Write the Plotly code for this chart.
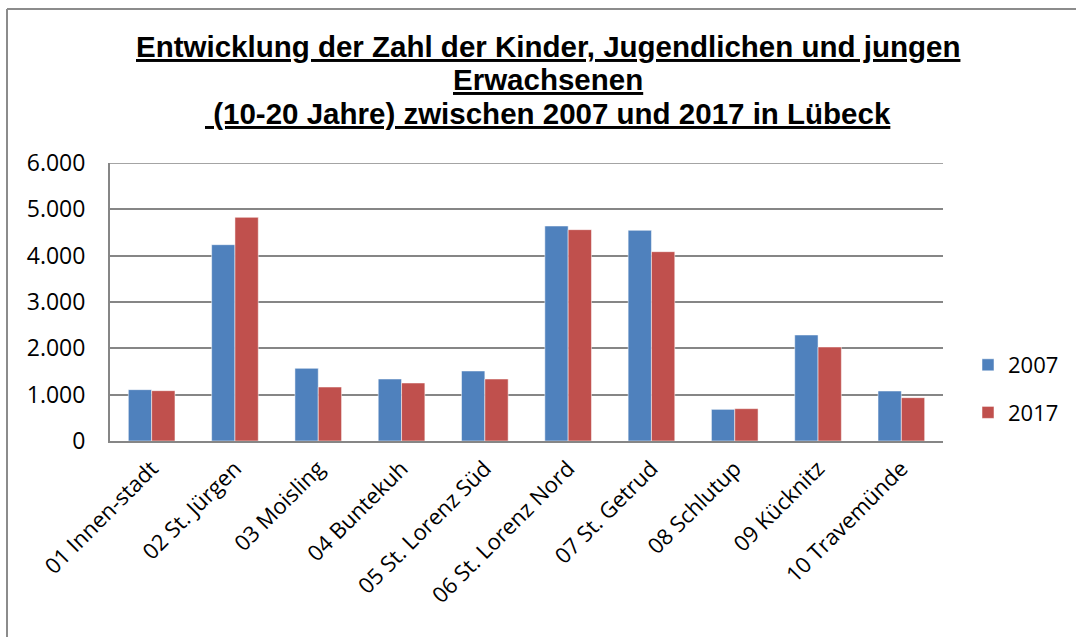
import plotly.graph_objects as go

categories = ["01 Innen-stadt", "02 St. Jürgen", "03 Moisling", "04 Buntekuh",
              "05 St. Lorenz Süd", "06 St. Lorenz Nord", "07 St. Getrud",
              "08 Schlutup", "09 Kücknitz", "10 Travemünde"]
values_2007 = [1108, 4237, 1568, 1338, 1511, 4640, 4547, 683, 2288, 1079]
values_2017 = [1086, 4827, 1165, 1252, 1338, 4561, 4086, 698, 2029, 935]
series_names = ["2007", "2017"]
y_ticks = [0, 1000, 2000, 3000, 4000, 5000, 6000]
y_ticktext = ["0", "1.000", "2.000", "3.000", "4.000", "5.000", "6.000"]
title_lines = ["Entwicklung der Zahl der Kinder, Jugendlichen und jungen",
               "Erwachsenen",
               " (10-20 Jahre) zwischen 2007 und 2017 in Lübeck"]

W, H = 1076, 637
ML, MR, MT, MB = 110, 133, 163, 196
PW, PH = W - ML - MR, H - MT - MB

def px_x(x):
    return (x - ML) / PW

def px_y(y):
    return (H - MB - y) / PH

fig = go.Figure()
fig.add_trace(go.Bar(x=categories, y=values_2007, name=series_names[0],
                     marker=dict(color="#4F81BD", line=dict(color="rgba(255,255,255,0.5)", width=1)),
                     legendgroup="a"))
fig.add_trace(go.Bar(x=categories, y=values_2017, name=series_names[1],
                     marker=dict(color="#C0504D", line=dict(color="rgba(255,255,255,0.5)", width=1)),
                     legendgroup="b"))

title_centers = [47, 79, 113]
for line, yc in zip(title_lines, title_centers):
    fig.add_annotation(text="<b><u>" + line + "</u></b>", xref="paper", yref="paper",
                       x=px_x(548), y=px_y(yc), xanchor="center", yanchor="middle",
                       showarrow=False, align="center",
                       font=dict(family="Liberation Sans, Arial", size=29.5, color="black"))

# outer frame
fig.add_shape(type="line", xref="paper", yref="paper",
              x0=px_x(7), x1=px_x(W + 5), y0=px_y(9), y1=px_y(9),
              line=dict(color="#8C8C8C", width=2))
fig.add_shape(type="line", xref="paper", yref="paper",
              x0=px_x(7), x1=px_x(7), y0=px_y(9), y1=px_y(H + 5),
              line=dict(color="#8C8C8C", width=2))
# top gridline at the range maximum
fig.add_shape(type="line", xref="paper", yref="y",
              x0=0, x1=1, y0=y_ticks[-1], y1=y_ticks[-1],
              line=dict(color="#868686", width=1.5), layer="below")

fig.update_layout(
    width=W, height=H,
    margin=dict(l=ML, r=MR, t=MT, b=MB, autoexpand=False),
    paper_bgcolor="white", plot_bgcolor="white",
    barmode="group", bargap=0.44, bargroupgap=0,
    showlegend=True,
    legend=dict(x=px_x(968), y=px_y(344), xanchor="left", yanchor="top",
                font=dict(family="Open Sans, Liberation Sans", size=22, color="black"),
                tracegroupgap=16, bgcolor="rgba(0,0,0,0)"),
    font=dict(family="Open Sans, Liberation Sans", color="black"),
)
fig.update_xaxes(tickangle=-45, showgrid=False, showline=True, linecolor="#868686", linewidth=2,
                 tickfont=dict(family="Open Sans, Liberation Sans", size=22, color="black"),
                 ticks="outside", ticklen=4, tickcolor="rgba(0,0,0,0)", fixedrange=True)
fig.update_yaxes(range=[0, 6000], tickvals=y_ticks, ticktext=y_ticktext,
                 showgrid=True, gridcolor="#868686", gridwidth=1.5,
                 showline=True, linecolor="#868686", linewidth=2,
                 tickfont=dict(family="Open Sans, Liberation Sans", size=23, color="black"),
                 ticks="outside", ticklen=18, tickcolor="rgba(0,0,0,0)",
                 zeroline=False, fixedrange=True)

fig.write_html("out.html", config={"displayModeBar": False},
               post_script="document.body.style.margin='0';")
